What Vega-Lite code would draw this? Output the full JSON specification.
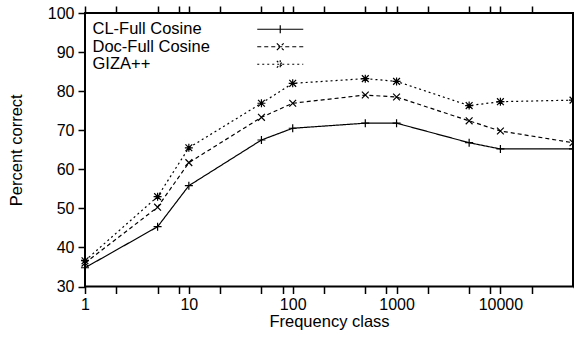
{
  "$schema": "https://vega.github.io/schema/vega-lite/v6.json",
  "width": 488,
  "height": 273.5,
  "autosize": "none",
  "padding": {"left": 85, "top": 13, "right": 1, "bottom": 54.5},
  "background": "white",
  "config": {
    "view": {"stroke": "black", "strokeWidth": 2},
    "font": "Liberation Sans",
    "axis": {
      "domain": false, "grid": false, "tickColor": "black", "tickWidth": 1.5, "tickSize": 7,
      "labelFont": "Liberation Sans", "labelFontSize": 16, "labelColor": "black",
      "titleFont": "Liberation Sans", "titleFontSize": 16.5, "titleFontWeight": "normal", "titleColor": "black",
      "labelOverlap": false, "labelFlush": false, "labelBound": false
    }
  },
  "data": {"values": [
    {"freq": 1, "series": "CL-Full Cosine", "value": 34.8},
    {"freq": 5, "series": "CL-Full Cosine", "value": 45.3},
    {"freq": 10, "series": "CL-Full Cosine", "value": 55.8},
    {"freq": 50, "series": "CL-Full Cosine", "value": 67.5},
    {"freq": 100, "series": "CL-Full Cosine", "value": 70.5},
    {"freq": 500, "series": "CL-Full Cosine", "value": 71.8},
    {"freq": 1000, "series": "CL-Full Cosine", "value": 71.8},
    {"freq": 5000, "series": "CL-Full Cosine", "value": 66.8},
    {"freq": 10000, "series": "CL-Full Cosine", "value": 65.2},
    {"freq": 50000, "series": "CL-Full Cosine", "value": 65.2},
    {"freq": 1, "series": "Doc-Full Cosine", "value": 36.0},
    {"freq": 5, "series": "Doc-Full Cosine", "value": 50.3},
    {"freq": 10, "series": "Doc-Full Cosine", "value": 61.7},
    {"freq": 50, "series": "Doc-Full Cosine", "value": 73.3},
    {"freq": 100, "series": "Doc-Full Cosine", "value": 76.9},
    {"freq": 500, "series": "Doc-Full Cosine", "value": 79.0},
    {"freq": 1000, "series": "Doc-Full Cosine", "value": 78.5},
    {"freq": 5000, "series": "Doc-Full Cosine", "value": 72.4},
    {"freq": 10000, "series": "Doc-Full Cosine", "value": 69.8},
    {"freq": 50000, "series": "Doc-Full Cosine", "value": 66.8},
    {"freq": 1, "series": "GIZA++", "value": 36.6},
    {"freq": 5, "series": "GIZA++", "value": 53.0},
    {"freq": 10, "series": "GIZA++", "value": 65.5},
    {"freq": 50, "series": "GIZA++", "value": 76.9},
    {"freq": 100, "series": "GIZA++", "value": 82.0},
    {"freq": 500, "series": "GIZA++", "value": 83.2},
    {"freq": 1000, "series": "GIZA++", "value": 82.5},
    {"freq": 5000, "series": "GIZA++", "value": 76.3},
    {"freq": 10000, "series": "GIZA++", "value": 77.3},
    {"freq": 50000, "series": "GIZA++", "value": 77.7}
  ]},
  "resolve": {"axis": {"x": "independent", "y": "independent"}},
  "layer": [
    {
      "mark": {"type": "line", "color": "black", "strokeWidth": 1.2},
      "encoding": {
        "x": {"field": "freq", "type": "quantitative",
          "scale": {"type": "log", "domain": [1, 50000], "nice": false},
          "axis": {"orient": "bottom", "title": "Frequency class", "format": "d",
            "values": [1, 2, 5, 8, 10, 20, 50, 80, 100, 200, 500, 800, 1000, 2000, 5000, 8000, 10000, 20000],
            "labelExpr": "indexof([1,10,100,1000,10000], datum.value) >= 0 ? datum.label : ''",
            "labelPadding": 3, "titlePadding": 1,
            "encode": {"ticks": {"update": {"y2": [{"test": "indexof([1,10,100,1000,10000], datum.value) >= 0", "value": -7}, {"value": -3.5}]}}}}},
        "y": {"field": "value", "type": "quantitative",
          "scale": {"domain": [30, 100], "nice": false, "zero": false},
          "axis": {"orient": "left", "title": "Percent correct",
            "values": [30, 40, 50, 60, 70, 80, 90, 100],
            "labelPadding": 4, "titlePadding": 23,
            "encode": {"ticks": {"update": {"x2": {"value": 7}}}}}},
        "strokeDash": {"field": "series", "type": "nominal",
          "scale": {"domain": ["CL-Full Cosine", "Doc-Full Cosine", "GIZA++"], "range": [[1, 0], [4, 3], [2, 3]]},
          "legend": {"orient": "none", "legendX": 187, "legendY": 8, "title": null, "padding": 0,
            "symbolSize": 64, "symbolStrokeColor": "black", "symbolStrokeWidth": 1.2, "symbolFillColor": "transparent",
            "labelOffset": -196, "labelFont": "Liberation Sans", "labelFontSize": 16.5, "labelColor": "black",
            "rowPadding": 0.5, "labelLimit": 300,
            "encode": {"symbols": {"update": {"shape": {"signal": "datum.value == 'CL-Full Cosine' ? 'M-5.75,0L5.75,0M0,-1L0,1' : datum.value == 'Doc-Full Cosine' ? 'M-5.75,0L5.75,0M-0.85,-0.85L0.85,0.85M-0.85,0.85L0.85,-0.85' : 'M-5.75,0L5.75,0M0,-1L0,1M-0.85,-0.85L0.85,0.85M-0.85,0.85L0.85,-0.85'"}}}}}}
      }
    },
    {
      "transform": [{"filter": "datum.series == 'CL-Full Cosine'"}],
      "mark": {"type": "point", "shape": "M-1,0L1,0M0,-1L0,1", "filled": false, "stroke": "black", "strokeWidth": 1.2, "size": 64, "opacity": 1},
      "encoding": {
        "x": {"field": "freq", "type": "quantitative", "axis": null},
        "y": {"field": "value", "type": "quantitative", "axis": null}
      }
    },
    {
      "transform": [{"filter": "datum.series == 'Doc-Full Cosine'"}],
      "mark": {"type": "point", "shape": "M-0.85,-0.85L0.85,0.85M-0.85,0.85L0.85,-0.85", "filled": false, "stroke": "black", "strokeWidth": 1.2, "size": 64, "opacity": 1},
      "encoding": {
        "x": {"field": "freq", "type": "quantitative", "axis": null},
        "y": {"field": "value", "type": "quantitative", "axis": null}
      }
    },
    {
      "transform": [{"filter": "datum.series == 'GIZA++'"}],
      "mark": {"type": "point", "shape": "M-1,0L1,0M0,-1L0,1M-0.85,-0.85L0.85,0.85M-0.85,0.85L0.85,-0.85", "filled": false, "stroke": "black", "strokeWidth": 1.2, "size": 64, "opacity": 1},
      "encoding": {
        "x": {"field": "freq", "type": "quantitative", "axis": null},
        "y": {"field": "value", "type": "quantitative", "axis": null}
      }
    },
    {
      "mark": {"type": "point", "opacity": 0},
      "encoding": {
        "x": {"field": "freq", "type": "quantitative",
          "axis": {"orient": "top", "title": null, "labels": false,
            "values": [1, 2, 5, 8, 10, 20, 50, 80, 100, 200, 500, 800, 1000, 2000, 5000, 8000, 10000, 20000],
            "encode": {"ticks": {"update": {"y2": [{"test": "indexof([1,10,100,1000,10000], datum.value) >= 0", "value": 7}, {"value": 3.5}]}}}}},
        "y": {"field": "value", "type": "quantitative",
          "axis": {"orient": "right", "title": null, "labels": false,
            "values": [30, 40, 50, 60, 70, 80, 90, 100],
            "encode": {"ticks": {"update": {"x2": {"value": -6}}}}}}
      }
    }
  ]
}
